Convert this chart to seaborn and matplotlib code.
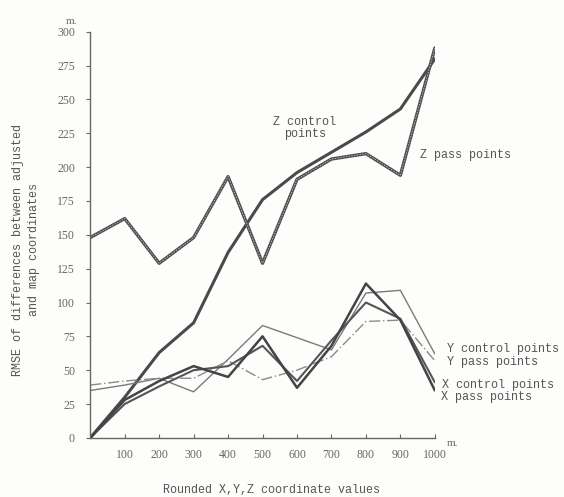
import numpy as np
import pandas as pd
import seaborn as sns
import matplotlib.pyplot as plt

# Data (metres)
coord = [0, 100, 200, 300, 400, 500, 600, 700, 800, 900, 1000]
z_control = [0, 30, 63, 85, 137, 176, 196, 211, 226, 243, 280]
z_pass = [148, 162, 129, 148, 193, 129, 191, 206, 210, 194, 288]
y_control = [35, 39, 44, 34, 58, 83, 74, 65, 107, 109, 62]
y_pass = [39, 42, 44, 44, 57, 43, 50, 60, 86, 87, 57]
x_control = [0, 25, 38, 50, 53, 68, 42, 72, 100, 88, 41]
x_pass = [0, 28, 42, 53, 45, 75, 37, 68, 114, 87, 35]

y_ticks = list(range(0, 301, 25))
x_ticks = list(range(100, 1001, 100))

sns.set_style("ticks")
plt.rcParams['font.family'] = ['Liberation Mono', 'DejaVu Sans']

fig = plt.figure(figsize=(5.64, 4.97), dpi=100)
fig.patch.set_facecolor('#fdfdfc')
ax = fig.add_axes([0.160, 0.119, 0.611, 0.817])
ax.set_facecolor('#fdfdfc')

# Z lines (heavy)
sns.lineplot(x=coord, y=z_control, ax=ax, color='#4a4a4a', lw=2.2)
sns.lineplot(x=coord, y=z_pass, ax=ax, color='#505050', lw=2.4)
sns.lineplot(x=coord, y=z_pass, ax=ax, color='#d8d8d8', lw=0.5, dashes=(2, 2))
# Y lines (light)
sns.lineplot(x=coord, y=y_control, ax=ax, color='#7a7a7a', lw=1.0)
sns.lineplot(x=coord, y=y_pass, ax=ax, color='#8a8a8a', lw=1.0, linestyle=(0, (8, 2, 1, 2)))
# X lines (medium)
sns.lineplot(x=coord, y=x_control, ax=ax, color='#555555', lw=1.5)
sns.lineplot(x=coord, y=x_pass, ax=ax, color='#444444', lw=1.8)

ax.set_xlim(0, 1000)
ax.set_ylim(0, 300)
ax.set_yticks(y_ticks)
ax.set_xticks(x_ticks)
ax.set_yticklabels([str(v) for v in y_ticks], family='Liberation Serif', fontsize=8.5, color='#666666')
ax.set_xticklabels([str(v) for v in x_ticks], family='Liberation Serif', fontsize=8.5, color='#666666')
ax.tick_params(axis='y', direction='out', length=3, color='#666666', pad=8)
ax.tick_params(axis='x', direction='in', length=3, color='#666666', pad=8)
sns.despine(ax=ax)
for s in ['left', 'bottom']:
    ax.spines[s].set_color('#666666')
    ax.spines[s].set_linewidth(1.0)

ax.set_xlabel('Rounded X,Y,Z coordinate values', fontsize=8.5, color='#555555')
ax.xaxis.set_label_coords(0.527, -0.113)
ax.set_ylabel('RMSE of differences between adjusted\nand map coordinates', fontsize=8.5,
              color='#555555', linespacing=1.45)
ax.yaxis.set_label_coords(-0.145, 0.463)

# unit marks
ax.text(-0.07, 1.02, 'm.', transform=ax.transAxes, fontsize=8, color='#666666', family='Liberation Serif')
ax.text(1.035, -0.02, 'm.', transform=ax.transAxes, fontsize=8, color='#666666', family='Liberation Serif')

# series labels
tc = '#555555'
ax.text(623, 229, 'Z control\npoints', ha='center', va='center', fontsize=8.5, color=tc, linespacing=1.0)
ax.text(957, 209, 'Z pass points', ha='left', va='center', fontsize=8.5, color=tc)
ax.text(1036, 66, 'Y control points', ha='left', va='center', fontsize=8.5, color=tc, clip_on=False)
ax.text(1036, 56, 'Y pass points', ha='left', va='center', fontsize=8.5, color=tc, clip_on=False)
ax.text(1022, 39, 'X control points', ha='left', va='center', fontsize=8.5, color=tc, clip_on=False)
ax.text(1018, 30, 'X pass points', ha='left', va='center', fontsize=8.5, color=tc, clip_on=False)

fig.savefig('out.png', dpi=100, facecolor=fig.get_facecolor())
